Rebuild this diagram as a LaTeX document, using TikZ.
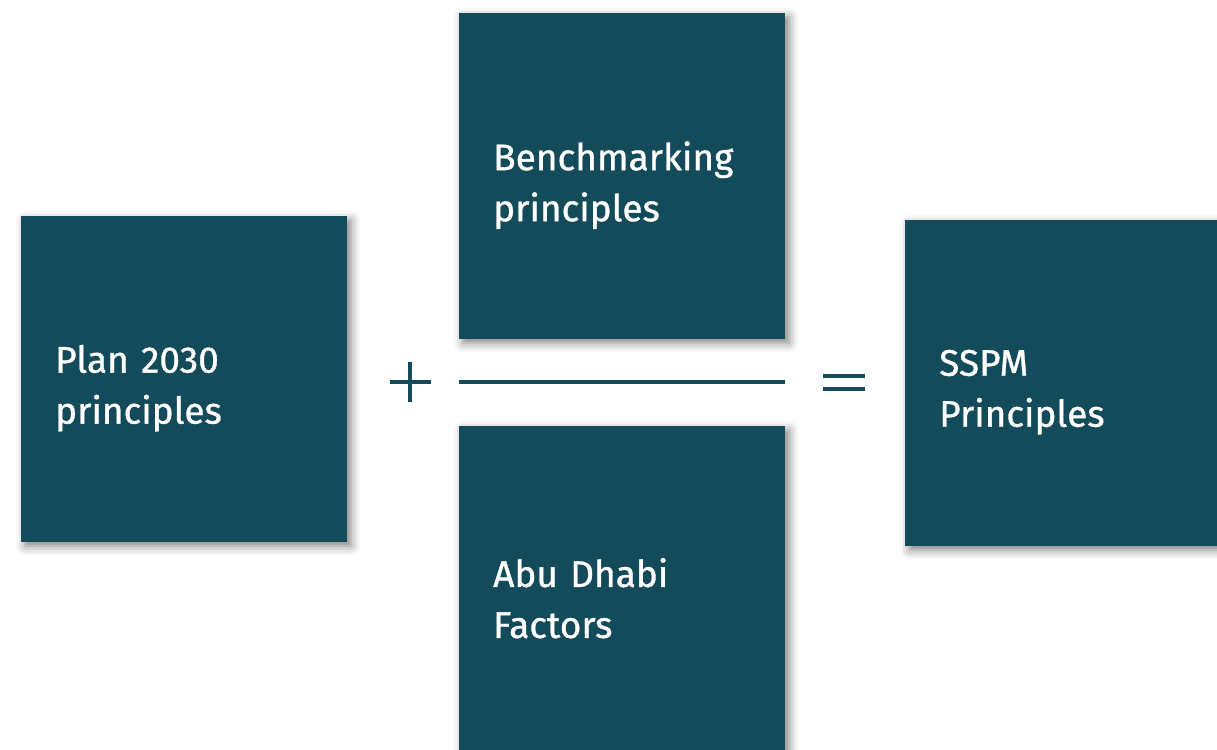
\documentclass[tikz,border=0pt]{standalone}
\usepackage{fontspec}
\setmainfont{Fira Sans}[FakeBold=0.9]
\usetikzlibrary{shadows.blur}
\definecolor{teal1}{HTML}{134B5A}
\tikzset{
  box/.style={fill=teal1, minimum width=326pt, minimum height=326pt, inner sep=0pt, anchor=north west,
    blur shadow={shadow xshift=4pt, shadow yshift=-4pt, shadow blur radius=9pt, shadow opacity=50}},
  boxtext/.style={inner sep=0pt, text=white, text width=258pt, align=left, anchor=center,
    font=\fontsize{37}{51}\selectfont, yshift=-9pt},
  op/.style={draw=teal1, line width=3.5pt}
}
\begin{document}
\begin{tikzpicture}[x=1pt,y=-1pt]
\useasboundingbox (0,0) rectangle (1217,749);
\begin{scope}
\clip (0,0) rectangle (1217,749);
\node[box] (plan) at (21,216) {};
\node[box] (bench) at (459,13) {};
\node[box] (abu) at (459,426) {};
\node[box] (sspm) at (905,220) {};
\end{scope}
\node[boxtext] (plant) at (plan.center) {Plan 2030\\principles};
\node[boxtext] (bencht) at (bench.center) {Benchmarking\\principles};
\node[boxtext] (abut) at (abu.center) {Abu Dhabi\\Factors};
\node[boxtext] (sspmt) at (sspm.center) {SSPM\\Principles};
\coordinate (p1) at (390,382); \coordinate (p2) at (431,382);
\coordinate (p3) at (410,362); \coordinate (p4) at (410,402);
\draw[op] (p1) -- (p2);
\draw[op] (p3) -- (p4);
\coordinate (l1) at (459,382); \coordinate (l2) at (785,382);
\draw[op] (l1) -- (l2);
\coordinate (e1) at (823,376); \coordinate (e2) at (865,376);
\coordinate (e3) at (823,389); \coordinate (e4) at (865,389);
\draw[op] (e1) -- (e2);
\draw[op] (e3) -- (e4);
\end{tikzpicture}
\end{document}
